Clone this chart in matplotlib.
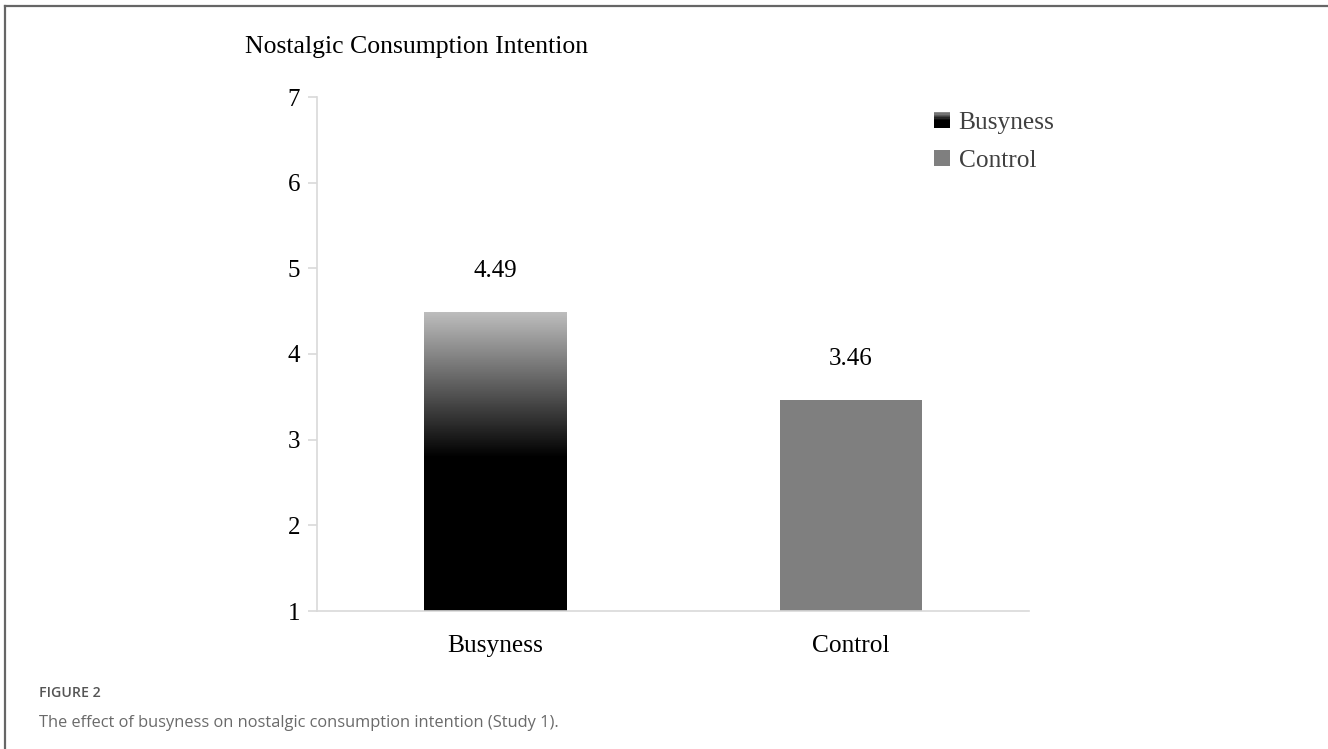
import numpy as np
import matplotlib
matplotlib.use("Agg")
import matplotlib.pyplot as plt
from matplotlib.patches import Rectangle
from matplotlib.lines import Line2D
from matplotlib.legend_handler import HandlerBase

# Data
groups = ["Busyness", "Control"]
means = [4.49, 3.46]
value_labels = ["4.49", "3.46"]
y_ticks = [1, 2, 3, 4, 5, 6, 7]

title = "Nostalgic Consumption Intention"
fig_label = "FIGURE 2"
caption = "The effect of busyness on nostalgic consumption intention (Study 1)."

SERIF = ["Liberation Serif", "DejaVu Serif"]
W, H = 1328, 749
fig = plt.figure(figsize=(W / 100, H / 100), dpi=100)
fig.patch.set_facecolor("white")


def fx(px):
    return px / W


def fy(py):
    return 1 - py / H


# frame lines at top and left of the figure panel
fig.add_artist(Line2D([fx(5), fx(W)], [fy(6), fy(6)], color="#666666", lw=1.6))
fig.add_artist(Line2D([fx(5), fx(5)], [fy(6), fy(H)], color="#666666", lw=1.6))

ax = fig.add_axes([fx(317), fy(611), fx(1029) - fx(317), fy(97) - fy(611)])
ax.set_xlim(-0.5, 1.5)
ax.set_ylim(1, 7)

x = np.arange(len(groups))
bar_w = 0.40
bar_colors = ["none", "#7f7f7f"]
bars = ax.bar(x, [m - 1 for m in means], bottom=1, width=bar_w,
              color=bar_colors, edgecolor="none", zorder=2)

# vertical gradient fill for the first bar: light grey at the top, black lower down
b0 = bars[0]
x0 = b0.get_x()
top = means[0]
black_from = 2.79
n = 256
levels = np.linspace(1, top, n)
shade = np.where(levels <= black_from, 0.0,
                 (levels - black_from) / (top - black_from) * 0.74)
img = np.repeat(shade[:, None], 2, axis=1)
im = ax.imshow(img, extent=[x0, x0 + bar_w, 1, top], origin="lower",
               cmap="gray", vmin=0, vmax=1, aspect="auto", zorder=2,
               interpolation="bilinear")
im.set_clip_path(b0)

for xi, m, lab in zip(x, means, value_labels):
    ax.annotate(lab, (xi, m), xytext=(0, 29.5), textcoords="offset points",
                ha="center", va="center", fontsize=18, family=SERIF,
                color="black")

for s in ["top", "right"]:
    ax.spines[s].set_visible(False)
for s in ["left", "bottom"]:
    ax.spines[s].set_color("#d9d9d9")
    ax.spines[s].set_linewidth(1.2)

ax.set_yticks(y_ticks)
ax.set_yticklabels([str(t) for t in y_ticks], family=SERIF, fontsize=18)
ax.tick_params(axis="y", length=6.5, width=1.2, color="#d9d9d9", pad=5.5,
               labelcolor="black")
ax.set_xticks(x)
ax.set_xticklabels(groups, family=SERIF, fontsize=18.3)
ax.tick_params(axis="x", length=0, pad=17, labelcolor="black")

fig.text(fx(245), fy(47), title, family=SERIF, fontsize=18.5, va="center",
         ha="left", color="black")


class GradientSquare(HandlerBase):
    def create_artists(self, legend, orig_handle, xdescent, ydescent,
                       width, height, fontsize, trans):
        steps = 12
        arts = []
        for i in range(steps):
            frac = i / (steps - 1)
            g = 0.0 if frac < 0.5 else (frac - 0.5) / 0.5 * 0.55
            r = Rectangle((-xdescent, -ydescent + height * i / steps),
                          width, height / steps + 0.3,
                          facecolor=(g, g, g), edgecolor="none",
                          transform=trans)
            arts.append(r)
        return arts


h_busy = Rectangle((0, 0), 1, 1, facecolor="black")
h_ctrl = Rectangle((0, 0), 1, 1, facecolor="#7f7f7f", edgecolor="none")
leg = ax.legend([h_busy, h_ctrl], groups, loc="upper left",
                bbox_to_anchor=(fx(934), fy(112)), bbox_transform=fig.transFigure,
                frameon=False, handlelength=0.62, handleheight=0.62,
                handletextpad=0.35, labelspacing=0.62, borderpad=0,
                borderaxespad=0,
                prop={"family": SERIF, "size": 18.3},
                handler_map={h_busy: GradientSquare()})
for t in leg.get_texts():
    t.set_color("#404040")

fig.text(fx(39), fy(693), fig_label, family=["Open Sans", "DejaVu Sans"],
         fontsize=10.2, fontweight="semibold", color="#555555", va="center")
fig.text(fx(39), fy(723), caption, family=["Open Sans", "DejaVu Sans"],
         fontsize=11.8, color="#6a6a6a", va="center")

fig.savefig("out.png", dpi=100, facecolor="white")
